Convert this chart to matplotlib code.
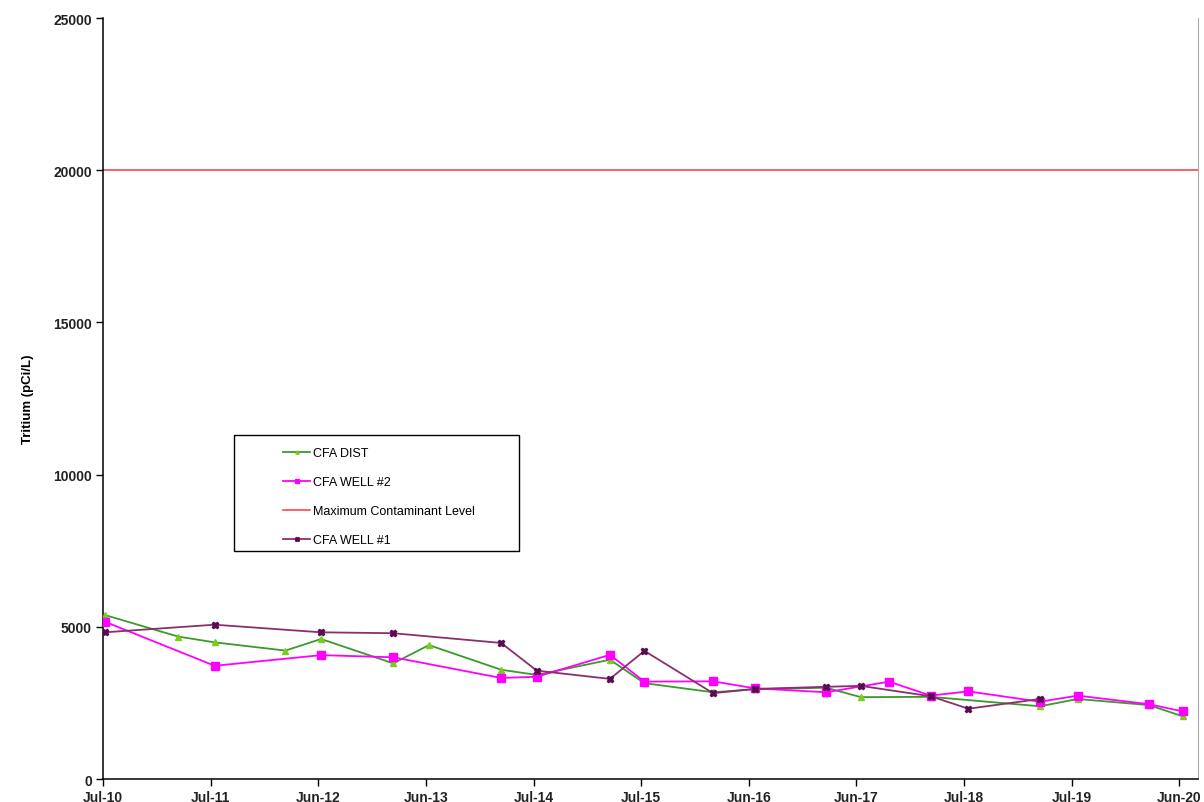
import pandas as pd
import matplotlib
matplotlib.use("Agg")
import matplotlib.pyplot as plt
from matplotlib.patches import Rectangle

plt.rcParams["font.family"] = ["Liberation Sans", "DejaVu Sans"]

# --------------------------------------------------
# Data
# --------------------------------------------------

dist_dates = ["2010-07-07", "2011-03-13", "2011-07-15", "2012-03-11", "2012-07-10",
              "2013-03-12", "2013-07-11", "2014-03-13", "2014-07-12", "2015-03-17",
              "2015-07-12", "2016-03-01", "2016-07-20", "2017-03-20", "2017-07-15",
              "2018-03-09", "2019-03-15", "2019-07-21", "2020-03-18", "2020-07-12"]
dist_vals = [5390, 4680, 4490, 4220, 4600,
             3800, 4400, 3590, 3420, 3920,
             3150, 2850, 2950, 3000, 2690,
             2700, 2390, 2630, 2430, 2060]

well2_dates = ["2010-07-07", "2011-07-15", "2012-07-10", "2013-03-12", "2014-03-13",
               "2014-07-12", "2015-03-17", "2015-07-12", "2016-03-01", "2016-07-20",
               "2017-03-20", "2017-10-19", "2018-03-09", "2018-07-15", "2019-03-15",
               "2019-07-21", "2020-03-18", "2020-07-12"]
well2_vals = [5170, 3720, 4070, 4000, 3320,
              3360, 4080, 3200, 3210, 2980,
              2850, 3200, 2740, 2880, 2540,
              2740, 2460, 2220]

well1_dates = ["2010-07-07", "2011-07-15", "2012-07-10", "2013-03-12", "2014-03-13",
               "2014-07-12", "2015-03-17", "2015-07-12", "2016-03-01", "2016-07-20",
               "2017-03-20", "2017-07-15", "2018-03-09", "2018-07-15", "2019-03-15"]
well1_vals = [4820, 5070, 4820, 4790, 4470,
              3560, 3290, 4210, 2820, 2960,
              3030, 3060, 2720, 2310, 2630]

mcl_value = 20000

tick_dates = ["2010-07-01", "2011-07-01", "2012-06-30", "2013-06-30", "2014-07-01",
              "2015-07-01", "2016-06-30", "2017-06-30", "2018-07-01", "2019-07-01",
              "2020-06-30"]
tick_labels = ["Jul-10", "Jul-11", "Jun-12", "Jun-13", "Jul-14", "Jul-15",
               "Jun-16", "Jun-17", "Jul-18", "Jul-19", "Jun-20"]

x_start = "2010-07-01"
x_end = "2020-09-01"

# --------------------------------------------------
# Plot
# --------------------------------------------------

fig = plt.figure(figsize=(12.04, 8.03), dpi=100)
ax = fig.add_axes([0.0855, 0.0286, 0.9095, 0.9477])

ax.plot(pd.to_datetime(dist_dates), dist_vals, color="#3a9a2a", lw=1.3,
        marker="^", ms=4, mfc="#7ccc1a", mec="#7ccc1a", label="CFA DIST", zorder=3)
ax.plot(pd.to_datetime(well2_dates), well2_vals, color="#ff00ff", lw=1.3,
        marker="s", ms=6, mfc="#ff00ff", mec="#ff00ff", label="CFA WELL #2", zorder=4)
ax.axhline(mcl_value, color="#ff3344", lw=1.1, label="Maximum Contaminant Level", zorder=2)
ax.plot(pd.to_datetime(well1_dates), well1_vals, color="#8a2f6a", lw=1.3,
        marker="X", ms=5, mfc="#5a0a50", mec="#5a0a50", label="CFA WELL #1", zorder=5)

ax.set_xlim(pd.Timestamp(x_start), pd.Timestamp(x_end))
ax.set_ylim(0, 25000)
ax.set_yticks(range(0, 25001, 5000))
ax.set_xticks(pd.to_datetime(tick_dates))
ax.set_xticklabels(tick_labels)

for lab in ax.get_xticklabels() + ax.get_yticklabels():
    lab.set_fontweight("bold")
    lab.set_fontsize(10)
    lab.set_color("#222222")

ax.tick_params(axis="both", direction="out", length=5, width=1, pad=3)
ax.set_ylabel("Tritium (pCi/L)", fontsize=9.5, fontweight="bold", labelpad=14)

ax.spines["top"].set_visible(False)
ax.spines["right"].set_color("#aaaaaa")
ax.spines["right"].set_linewidth(0.8)
ax.spines["left"].set_linewidth(1.1)
ax.spines["bottom"].set_linewidth(1.1)

# legend frame drawn separately so the entries sit indented like the original
frame = Rectangle((0.1196, 0.2996), 0.2603, 0.1524, transform=ax.transAxes,
                  facecolor="white", edgecolor="black", lw=1.0, zorder=6)
ax.add_patch(frame)

leg = ax.legend(loc="upper left", bbox_to_anchor=(0.1644, 0.4357),
                fontsize=9, frameon=False, labelspacing=1.35, handlelength=2.2,
                handletextpad=0.2, borderpad=0, borderaxespad=0, markerscale=0.6)
leg.set_zorder(7)

fig.savefig("out.png", dpi=100)
